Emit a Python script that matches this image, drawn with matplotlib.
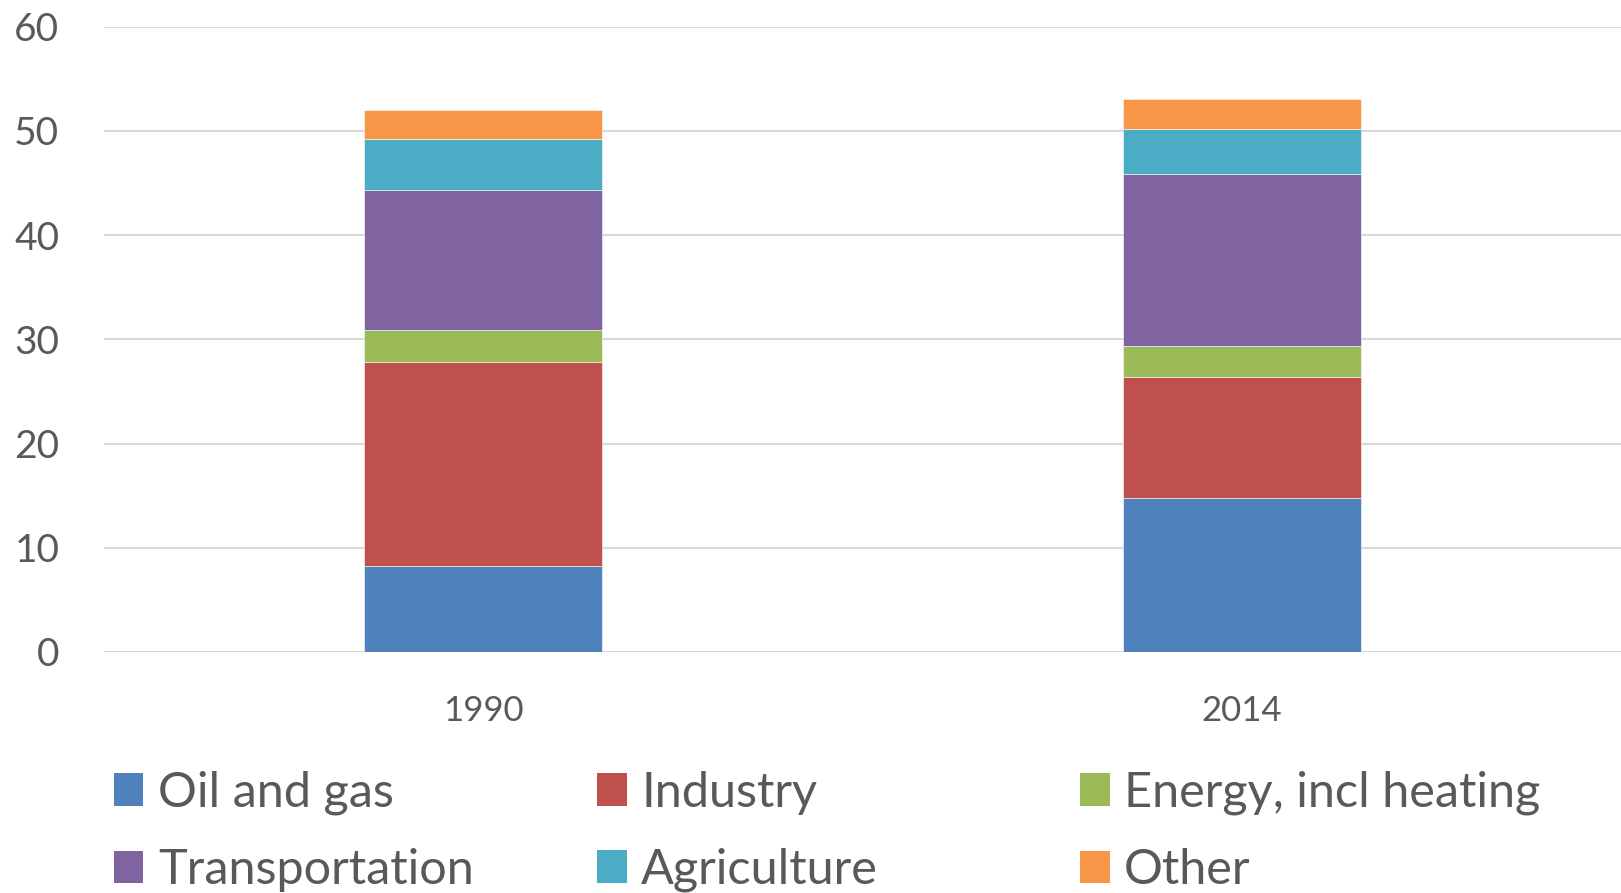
import matplotlib
matplotlib.use("Agg")
import matplotlib.pyplot as plt
import numpy as np
from matplotlib.patches import Patch

years = ["1990", "2014"]
series_names = ["Oil and gas", "Industry", "Energy, incl heating",
                "Transportation", "Agriculture", "Other"]
oil_and_gas = [8.2, 14.75]
industry = [19.6, 11.6]
energy = [3.1, 3.0]
transportation = [13.45, 16.5]
agriculture = [4.85, 4.3]
other = [2.85, 2.95]
yticks = [0, 10, 20, 30, 40, 50, 60]

colors = ["#4F81BD", "#C0504D", "#9BBB59", "#8064A2", "#4BACC6", "#F79646"]
text_color = "#595959"
plt.rcParams['font.family'] = ['Lato', 'DejaVu Sans']

fig = plt.figure(figsize=(16.21, 8.93), dpi=100)
ax = fig.add_axes([0.064, 0.270, 0.936, 0.700])

x = np.arange(len(years))
data = [oil_and_gas, industry, energy, transportation, agriculture, other]
bottom = np.zeros(len(years))
for vals, c, name in zip(data, colors, series_names):
    ax.bar(x, vals, width=0.314, bottom=bottom, color=c, label=name,
           edgecolor="white", linewidth=0.4, zorder=3)
    bottom += np.array(vals)

ax.set_xlim(-0.5, 1.5)
ax.set_ylim(0, 60)
ax.set_yticks(yticks)
ax.set_xticks(x)
ax.set_xticklabels(years)
ax.yaxis.grid(True, color="#d9d9d9", linewidth=1.5, zorder=0)
ax.set_axisbelow(True)
for s in ax.spines.values():
    s.set_visible(False)
ax.tick_params(axis="y", length=0, pad=32, labelsize=28, labelcolor=text_color)
ax.tick_params(axis="x", length=0, pad=31, labelsize=25, labelcolor=text_color)

handles = [Patch(facecolor=c) for c in colors]
col_x = [0.0705, 0.3685, 0.6665]
columns = [[0, 3], [1, 4], [2, 5]]
for cx, idx in zip(col_x, columns):
    leg = fig.legend([handles[i] for i in idx], [series_names[i] for i in idx],
                     ncol=1, loc="center left", bbox_to_anchor=(cx, 0.069),
                     frameon=False, fontsize=35, handlelength=0.6, handleheight=0.66,
                     handletextpad=0.3, labelspacing=0.68,
                     borderpad=0, borderaxespad=0)
    for t in leg.get_texts():
        t.set_color(text_color)

fig.savefig("out.png", dpi=100)
